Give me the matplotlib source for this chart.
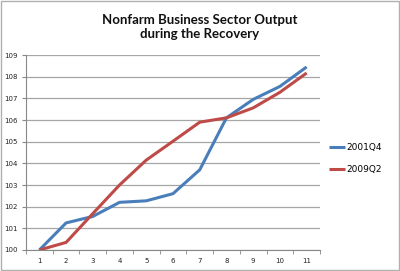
import matplotlib
matplotlib.use("Agg")
import matplotlib.pyplot as plt
from matplotlib.patches import Rectangle

quarters = [1, 2, 3, 4, 5, 6, 7, 8, 9, 10, 11]
s2001q4 = [100.0, 101.25, 101.55, 102.2, 102.27, 102.6, 103.7, 106.1, 106.95, 107.55, 108.45]
s2009q2 = [100.0, 100.35, 101.68, 103.0, 104.15, 105.02, 105.9, 106.1, 106.56, 107.28, 108.17]
yticks = [100, 101, 102, 103, 104, 105, 106, 107, 108, 109]

fig = plt.figure(figsize=(4.0, 2.71), dpi=100)
ax = fig.add_axes([0.065, 0.0775, 0.735, 0.7195])

ax.plot(quarters, s2001q4, color="#4a7ebb", lw=2.2, label="2001Q4", solid_capstyle="butt")
ax.plot(quarters, s2009q2, color="#be4b48", lw=2.2, label="2009Q2", solid_capstyle="butt")

ax.set_xlim(0.5, 11.5)
ax.set_ylim(100, 109)
ax.set_yticks(yticks)
ax.set_yticklabels([str(v) for v in yticks], fontsize=5, color="#222222")
ax.set_xticks(quarters)
ax.set_xticklabels([str(q) for q in quarters], fontsize=5, color="#222222")
ax.set_xticks([q + 0.5 for q in [0] + quarters], minor=True)
ax.tick_params(axis="x", which="major", length=0, pad=6)
ax.tick_params(axis="x", which="minor", length=3, color="#888888", direction="out")
ax.tick_params(axis="y", length=3, color="#888888", direction="out", pad=3)
ax.yaxis.grid(True, color="#a6a6a6", lw=0.9)
ax.set_axisbelow(True)
for s in ["top", "right"]:
    ax.spines[s].set_visible(False)
for s in ["left", "bottom"]:
    ax.spines[s].set_color("#888888")
    ax.spines[s].set_linewidth(0.8)

fig.text(0.5, 0.9, "Nonfarm Business Sector Output\nduring the Recovery",
         ha="center", va="center", fontsize=9.5, fontweight="bold",
         family="Lato", linespacing=1.2, color="#111111")

leg = fig.legend(loc="center left", bbox_to_anchor=(0.823, 0.415), frameon=False,
                 fontsize=6.5, handlelength=1.8, handletextpad=0.15, labelspacing=1.45,
                 borderpad=0, borderaxespad=0)

fig.patches.append(Rectangle((0.002, 0.003), 0.995, 0.993, transform=fig.transFigure,
                             fill=False, edgecolor="#b0b0b0", lw=1.0))

fig.savefig("out.png", dpi=100)
